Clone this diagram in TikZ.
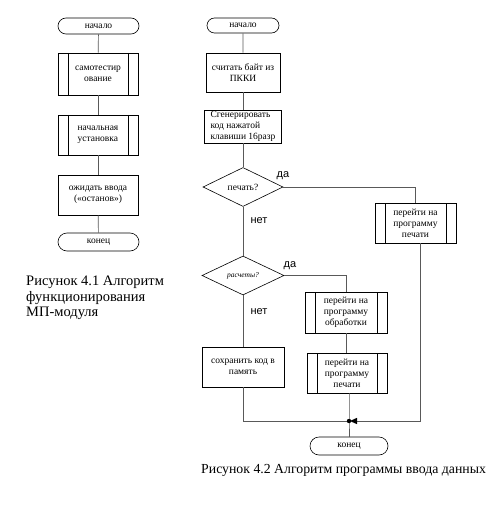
\documentclass[tikz,border=0pt]{standalone}
\usepackage{fontspec}
\setmainfont{Liberation Serif}
\newfontfamily\lsans{Liberation Sans}
\usetikzlibrary{shapes.geometric,shapes.misc,arrows.meta}
\begin{document}
\begin{tikzpicture}[x=1pt,y=-1pt,
  every node/.style={inner sep=1pt, font=\fontsize{9.5}{11}\selectfont},
  box/.style={draw=black, line width=0.6pt, rectangle, align=center},
  subproc/.style={box, path picture={
     \draw[line width=0.6pt] ([xshift=10pt]path picture bounding box.north west) -- ([xshift=10pt]path picture bounding box.south west);
     \draw[line width=0.6pt] ([xshift=-10pt]path picture bounding box.north east) -- ([xshift=-10pt]path picture bounding box.south east);}},
  term/.style={draw=black, line width=0.6pt, rounded rectangle},
  decis/.style={draw=black, line width=0.6pt, diamond, inner sep=0pt},
  conn/.style={draw=black!65, line width=0.7pt},
  yesno/.style={font=\lsans\fontsize{11}{12}\selectfont},
  captext/.style={font=\fontsize{13.8}{15.5}\selectfont, align=left, anchor=west}]
\useasboundingbox (0,0) rectangle (490,508);
\fill[white] (0,0) rectangle (490,508);
% left column
\node[term, minimum width=83pt, minimum height=16pt] (s1) at (98.5,26) {начало};
\node[subproc, minimum width=80pt, minimum height=42pt] (b1) at (98,74) {самотестир\\ование};
\node[subproc, minimum width=80pt, minimum height=40pt, align=left] (b2) at (98,135) {начальная\\установка};
\node[box, minimum width=80pt, minimum height=40pt] (b3) at (98,195) {ожидать ввода\\(«останов»)};
\node[term, minimum width=83pt, minimum height=18pt] (e1) at (98.5,242) {конец};
\draw[conn] (s1) -- (b1);
\draw[conn] (b1) -- (b2);
\draw[conn] (b2) -- (b3);
\draw[conn] (b3) -- (e1);
\node[captext, font=\fontsize{14.5}{15.5}\selectfont] (c1) at (25,298) {Рисунок 4.1 Алгоритм\\функционирования\\МП-модуля};
% right column
\node[term, minimum width=74pt, minimum height=15pt] (s2) at (243,25.5) {начало};
\node[box, minimum width=74pt, minimum height=39pt] (r1) at (243,72.5) {считать байт из\\ПККИ};
\node[box, minimum width=77pt, minimum height=33pt, align=left] (r2) at (243,126.5) {Сгенерировать\\код нажатой\\клавиши 16разр};
\node[decis, minimum width=80pt, minimum height=39pt] (d1) at (243,187) {печать?};
\node[decis, minimum width=82pt, minimum height=39pt, font=\itshape\fontsize{7.5}{8}\selectfont] (d2) at (243,275.5) {расчеты?};
\node[box, minimum width=82pt, minimum height=40pt] (sv) at (243,367) {сохранить код в\\память};
\node[subproc, minimum width=81pt, minimum height=40pt] (p1) at (415.5,223) {перейти на\\программу\\печати};
\node[subproc, minimum width=82pt, minimum height=41pt] (p2) at (346,312.5) {перейти на\\программу\\обработки};
\node[subproc, minimum width=80pt, minimum height=40pt] (p3) at (347,373) {перейти на\\программу\\печати};
\node[term, minimum width=80pt, minimum height=18pt] (e2) at (349,446) {конец};
\coordinate (J) at (349,421);
\coordinate (p1out) at ([xshift=4.5pt]p1.south);
\draw[conn] (s2) -- (r1);
\draw[conn] (r1) -- (r2);
\draw[conn] (r2) -- (d1);
\draw[conn] (d1) -- (d2);
\draw[conn] (d2) -- (sv);
\draw[conn] (d1.east) -| (p1.north);
\draw[conn] (d2.east) -| (p2.north);
\draw[conn] (p2.south) -- (p2.south |- p3.north);
\draw[conn] (p3.south -| J) -- (J) -- (e2.north);
\draw[conn] (sv.south) |- (J);
\draw[conn] (p1out) |- ([xshift=7pt]J);
\fill[black] (J) circle (2.2pt);
\fill[black] (J) ++(1pt,0) -- ++(7pt,-3.2pt) -- ++(0,6.4pt) -- cycle;
\node[yesno] (y1) at (283,176) {да};
\node[yesno] (n1) at (259,221) {нет};
\node[yesno] (y2) at (290,266) {да};
\node[yesno] (n2) at (259,312) {нет};
\node[captext] (c2) at (200,470) {Рисунок 4.2 Алгоритм программы ввода данных};
\end{tikzpicture}
\end{document}
